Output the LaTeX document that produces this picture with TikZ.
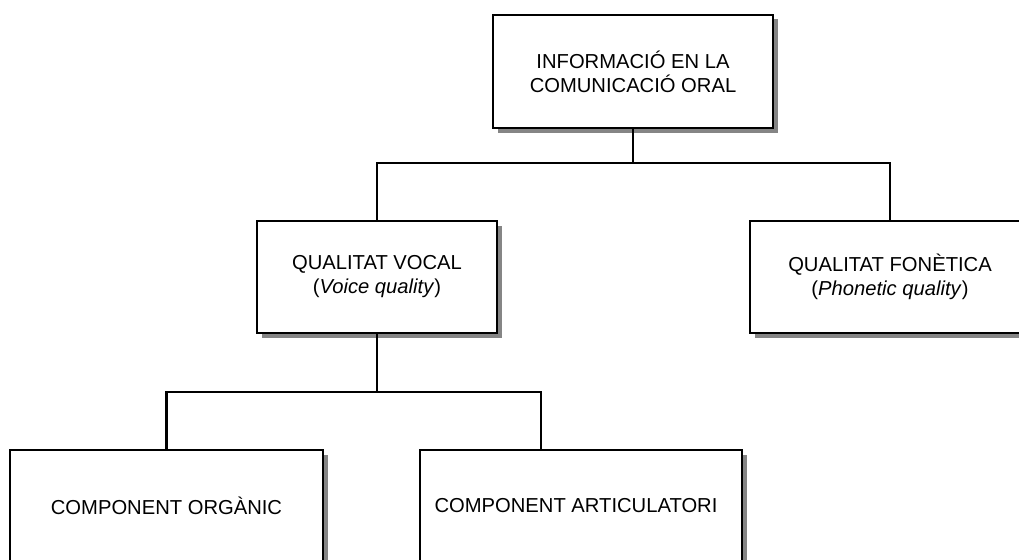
\documentclass[tikz,border=0pt]{standalone}
\usepackage{fontspec}
\setmainfont{Liberation Sans}
\usetikzlibrary{shadows}
\begin{document}
\begin{tikzpicture}[x=1pt,y=1pt,
  box/.style={draw=black, line width=2.8pt, fill=white, align=center,
    inner sep=0pt, font=\fontsize{20.2}{24}\selectfont,
    drop shadow={shadow xshift=4.5pt, shadow yshift=-4.5pt, fill=black!48, opacity=1}},
  link/.style={draw=black, line width=2.8pt}]
\useasboundingbox (0,0) rectangle (1019,-559);
\clip (0,0) rectangle (1019,-559);
\fill[white] (0,0) rectangle (1019,-559);

% top level
\node[box, minimum width=280, minimum height=113] (top) at (633,-71.5)
  {INFORMACIÓ EN LA\\COMUNICACIÓ ORAL};

% second level
\node[box, minimum width=240, minimum height=112] (vocal) at (377,-277)
  {QUALITAT VOCAL\\(\textit{Voice quality})};
\node[box, minimum width=280, minimum height=112] (fon) at (890,-277)
  {QUALITAT FONÈTICA\\(\textit{Phonetic quality})};

% third level
\node[box, minimum width=313, minimum height=112] (org) at (166.5,-506)
  {COMPONENT ORGÀNIC};
\node[box, minimum width=322, minimum height=112] (art) at (581,-506)
  {\hspace*{-10pt}COMPONENT ARTICULATORI};

% connectors
\coordinate (j1) at (633,-163);
\coordinate (j2) at (377,-392);
\coordinate (artin) at (541,-450);
\draw[link] (top.south) -- (j1);
\draw[link] (vocal.north) |- (j1) -| (fon.north);
\draw[link] (vocal.south) -- (j2);
\draw[link] (org.north) |- (j2) -| (artin);
\end{tikzpicture}
\end{document}
